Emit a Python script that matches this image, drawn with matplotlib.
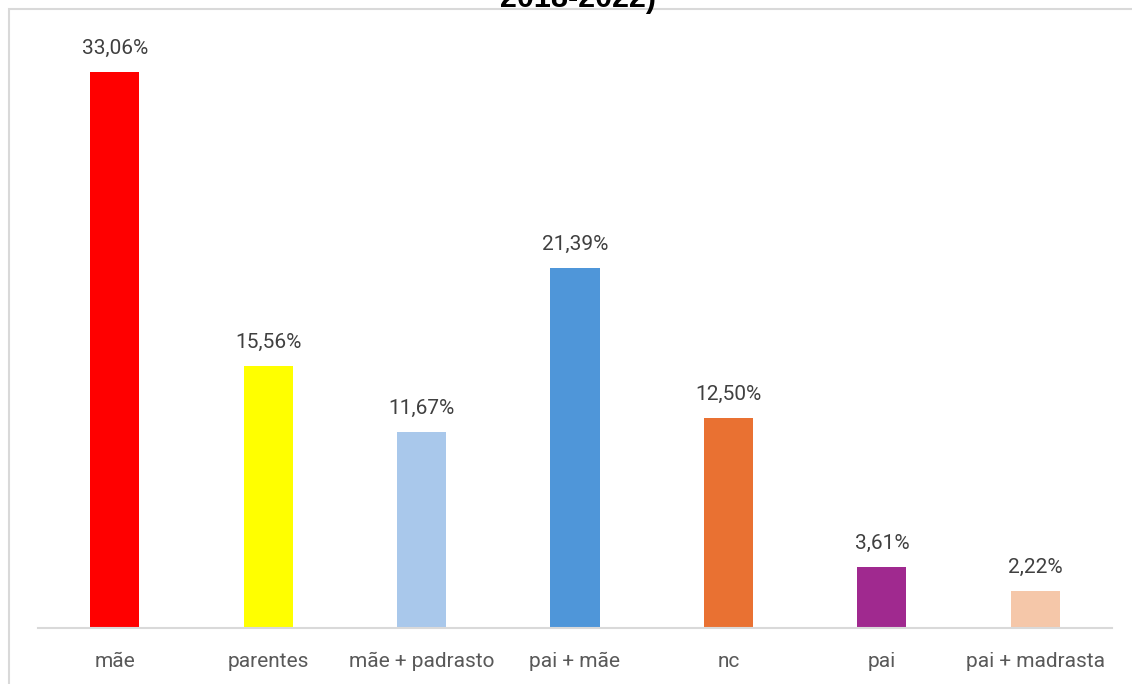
import matplotlib.pyplot as plt
from matplotlib.patches import Rectangle

# dados
categorias = ['mãe', 'parentes', 'mãe + padrasto', 'pai + mãe', 'nc', 'pai', 'pai + madrasta']
valores = [33.06, 15.56, 11.67, 21.39, 12.50, 3.61, 2.22]
rotulos = ['33,06%', '15,56%', '11,67%', '21,39%', '12,50%', '3,61%', '2,22%']
cores = ['#FF0000', '#FFFF00', '#A9C8EB', '#4F96D9', '#E97132', '#A0298F', '#F5C7A9']
titulo = '2018-2022)'

plt.rcParams['font.family'] = ['Roboto', 'DejaVu Sans']

W, H = 1132, 684
fig = plt.figure(figsize=(W / 100, H / 100), dpi=100)

# moldura do gráfico (cortada à direita e embaixo)
fig.patches.append(Rectangle((8.5 / W, -0.1), 1.2, 1 - 9.5 / H + 0.1,
                             transform=fig.transFigure, facecolor='white',
                             edgecolor='#D9D9D9', linewidth=1.5, zorder=-1))

ax = fig.add_axes([38 / W, (H - 628) / H, (1112 - 38) / W, (628 - 39) / H])
ax.set_facecolor('none')
ax.set_zorder(1)

x = range(len(categorias))
ax.bar(x, valores, width=0.32, color=cores, zorder=2)

for i, (v, r) in enumerate(zip(valores, rotulos)):
    ax.annotate(r, (i, v), xytext=(0, 10), textcoords='offset points',
                ha='center', va='bottom', fontsize=15, color='#404040')

ax.set_xlim(-0.5, len(categorias) - 0.5)
ax.set_ylim(0, 35)
ax.set_xticks(list(x))
ax.set_xticklabels(categorias, fontsize=15, color='#595959')
ax.tick_params(axis='x', length=0, pad=17)
ax.set_yticks([])
for s in ['top', 'right', 'left']:
    ax.spines[s].set_visible(False)
ax.spines['bottom'].set_color('#D9D9D9')
ax.spines['bottom'].set_linewidth(1.5)

# título (cortado no topo, como na imagem original)
fig.text(578 / W, 1 - 14 / H, titulo, ha='center', va='bottom',
         fontsize=22, fontweight='bold', family=['Liberation Sans', 'DejaVu Sans'],
         zorder=3)

fig.savefig('out.png', dpi=100)
